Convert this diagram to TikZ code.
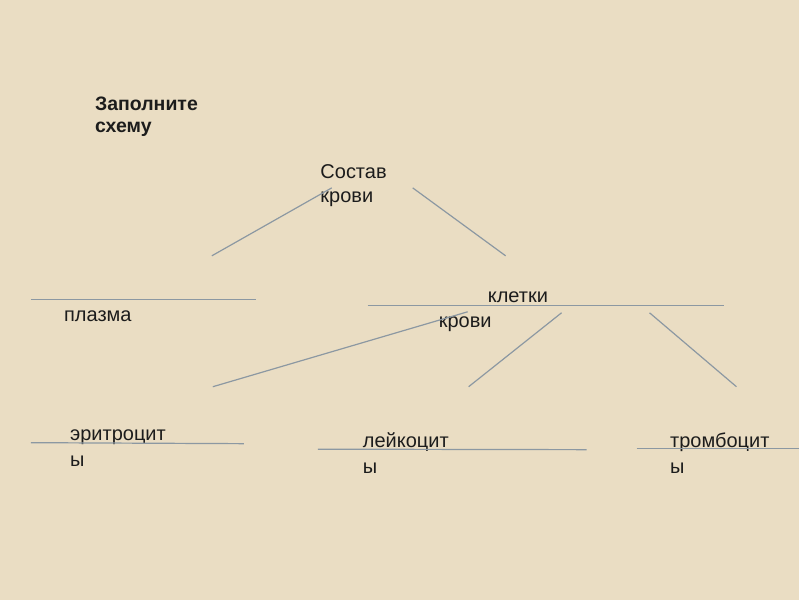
\documentclass[tikz,border=0pt]{standalone}
\usepackage{fontspec}
\setmainfont{Liberation Sans}
\definecolor{paper}{RGB}{234,221,195}
\definecolor{rule}{RGB}{140,152,162}
\definecolor{ink}{RGB}{28,28,28}

\begin{document}
\begin{tikzpicture}[x=1pt,y=-1pt,
  lbl/.style={anchor=base west,inner sep=0pt,text=ink,font=\fontsize{20}{24}\selectfont},
  task/.style={anchor=base west,inner sep=0pt,text=ink,font=\bfseries\fontsize{19.5}{22}\selectfont},
  ln/.style={draw=rule,line width=1.2pt}]
\fill[paper] (0,0) rectangle (800,600);

% Heading.
\node[task] (task1) at (95,111) {Заполните};
\node[task] (task2) at (95,133) {схему};

% Texts of the scheme.
\node[lbl] (root1) at (320.5,179) {Состав};
\node[lbl] (root2) at (320.5,203) {крови};
\node[lbl] (plasma) at (64,322) {плазма};
\node[lbl] (cells1) at (488,303) {клетки};
\node[lbl] (cells2) at (439,328) {крови};
\foreach \n/\x/\y/\w in {ery/70/441/эритроцит,leu/363/447.5/лейкоцит,thr/670.5/447.5/тромбоцит}{
  \node[lbl] (\n1) at (\x,\y) {\w};
  \node[lbl] (\n2) at (\x,\y+26) {ы};
}

% Free ends of the lines.
\coordinate (rl1) at (212,256);   \coordinate (rl2) at (332,188);
\coordinate (rr1) at (413,188);   \coordinate (rr2) at (506,256);
\coordinate (pl1) at (31,299.5);  \coordinate (pl2) at (256,299.5);
\coordinate (kl1) at (368,306);   \coordinate (kl2) at (725,306);
\coordinate (d11) at (213,387);   \coordinate (d12) at (468,312);
\coordinate (d21) at (469,387);   \coordinate (d22) at (562,313);
\coordinate (d31) at (650,313);   \coordinate (d32) at (737,387);
\coordinate (el1) at (31,443);    \coordinate (el2) at (244,444);
\coordinate (ll1) at (318,449.5); \coordinate (ll2) at (587,450);
\coordinate (tl1) at (637,449);   \coordinate (tl2) at (800,449);

\foreach \p/\q in {rl1/rl2,rr1/rr2,pl1/pl2,kl1/kl2,d11/d12,d21/d22,d31/d32,el1/el2,ll1/ll2,tl1/tl2}
  \draw[ln] (\p) -- (\q);
\end{tikzpicture}
\end{document}
